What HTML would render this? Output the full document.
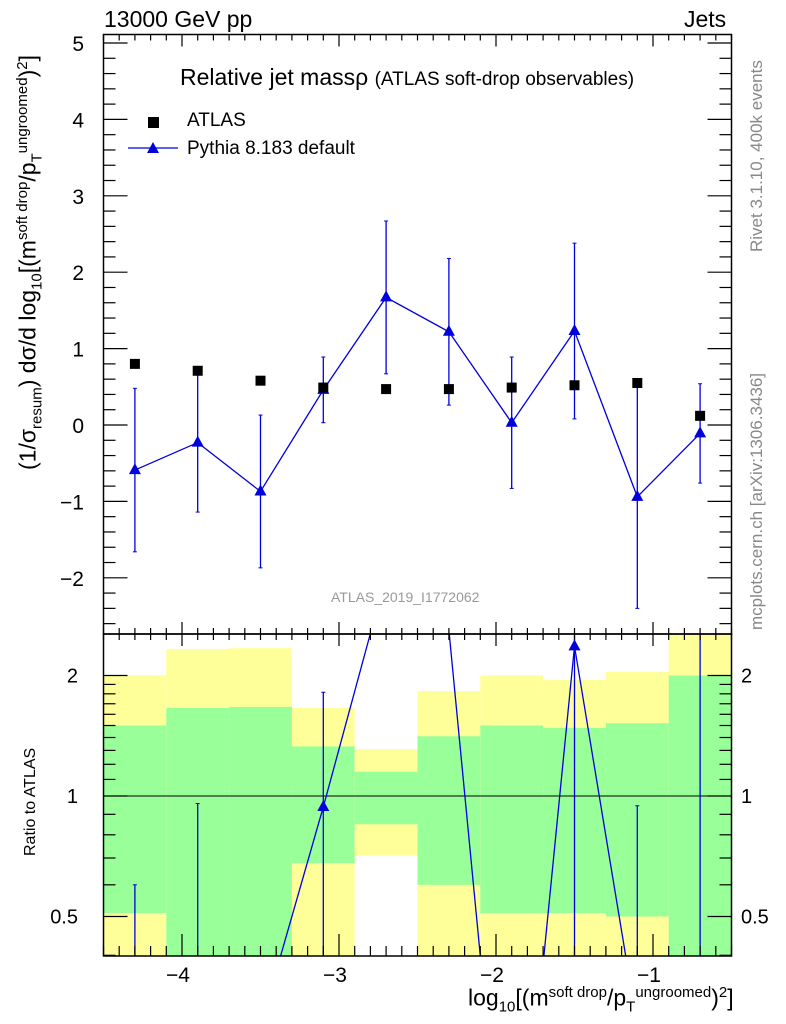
<!DOCTYPE html>
<html><head><meta charset="utf-8"><style>
body{margin:0;background:#fff;overflow:hidden;width:786px;height:1024px;}
svg{display:block;font-family:"Liberation Sans",sans-serif;}
</style></head><body>
<svg id="c" width="786" height="1024"></svg>
<script>
const edges=[-4.5,-4.1,-3.7,-3.3,-2.9,-2.5,-2.1,-1.7,-1.3,-0.9,-0.5];
const centers=[-4.3,-3.9,-3.5,-3.1,-2.7,-2.3,-1.9,-1.5,-1.1,-0.7];
const atlas=[0.8,0.71,0.58,0.49,0.47,0.47,0.49,0.52,0.55,0.12];
const pythia=[-0.59,-0.23,-0.87,0.46,1.67,1.22,0.03,1.23,-0.94,-0.11];
const pyErr=[1.07,0.91,1.0,0.43,1.0,0.96,0.86,1.15,1.46,0.65];
const yelHi=[2.0,2.33,2.34,1.66,1.31,1.83,2.0,1.95,2.04,3.0];
const yelLo=[0.3,0.3,0.3,0.3,0.71,0.3,0.3,0.3,0.3,0.3];
const grnHi=[1.5,1.66,1.67,1.33,1.15,1.41,1.5,1.48,1.52,2.0];
const grnLo=[0.51,0.3,0.3,0.68,0.85,0.6,0.51,0.51,0.5,0.3];
const xTicks=[-4,-3,-2,-1];
const yTicks=[-2,-1,0,1,2,3,4,5];
const rTicks=[0.5,1,2];

const S=document.getElementById('c'),NS='http://www.w3.org/2000/svg';
function el(t,a,p){const e=document.createElementNS(NS,t);for(const k in a)e.setAttribute(k,a[k]);(p||S).appendChild(e);return e;}
const L=103.5,R=731.5,T=34.5,M=634,B=956;
const X=v=>L+(v+4.5)*157;
const Y=v=>425-v*76.4;
const RY=v=>796-Math.log2(v)*120.5;
const cl=v=>Math.max(M,Math.min(B,v));

for(let i=0;i<10;i++){
  const x0=X(edges[i]),x1=X(edges[i+1]);
  let r=el('rect',{x:x0,y:cl(RY(yelHi[i])),width:x1-x0,height:cl(RY(yelLo[i]))-cl(RY(yelHi[i])),fill:'#ffff99'});
  
  r=el('rect',{x:x0,y:cl(RY(grnHi[i])),width:x1-x0,height:cl(RY(grnLo[i]))-cl(RY(grnHi[i])),fill:'#99ff99'});
  
}
el('line',{x1:L,x2:R,y1:RY(1),y2:RY(1),stroke:'#000','stroke-width':1});

const defs=el('defs',{});
const c1=el('clipPath',{id:'cm'},defs);el('rect',{x:L,y:T,width:R-L,height:M-T},c1);
const c2=el('clipPath',{id:'cr'},defs);el('rect',{x:L,y:M,width:R-L,height:B-M},c2);
const gm=el('g',{'clip-path':'url(#cm)'}),gr=el('g',{'clip-path':'url(#cr)'});

function tri(g,x,y){const t=el('path',{d:`M${x},${y-7}L${x+6},${y+4}L${x-6},${y+4}Z`,fill:'#0000dd'},g);}
el('polyline',{points:centers.map((c,i)=>X(c)+','+Y(pythia[i])).join(' '),fill:'none',stroke:'#0000dd','stroke-width':1.3},gm);
centers.forEach((c,i)=>{
  const x=X(c);
  el('line',{x1:x,x2:x,y1:Y(pythia[i]+pyErr[i]),y2:Y(pythia[i]-pyErr[i]),stroke:'#0000dd','stroke-width':1.3},gm);
  el('line',{x1:x-2,x2:x+2,y1:Y(pythia[i]+pyErr[i]),y2:Y(pythia[i]+pyErr[i]),stroke:'#0000dd'},gm);
  el('line',{x1:x-2,x2:x+2,y1:Y(pythia[i]-pyErr[i]),y2:Y(pythia[i]-pyErr[i]),stroke:'#0000dd'},gm);
  tri(gm,x,Y(pythia[i]));
  const s=el('rect',{x:x-5,y:Y(atlas[i])-5,width:10,height:10,fill:'#000'},gm);
  
});
const rat=pythia.map((p,i)=>p/atlas[i]);
const RYs=v=>v>0?RY(v):B+70;
el('polyline',{points:centers.map((c,i)=>X(c)+','+RYs(rat[i])).join(' '),fill:'none',stroke:'#0000dd','stroke-width':1.3},gr);
centers.forEach((c,i)=>{
  const x=X(c),hi=(pythia[i]+pyErr[i])/atlas[i],lo=(pythia[i]-pyErr[i])/atlas[i];
  if(hi<=0)return;
  if(rat[i]>0&&(RY(rat[i])<M||RY(rat[i])>B))return;
  el('line',{x1:x,x2:x,y1:RY(hi),y2:RYs(lo),stroke:'#0000dd','stroke-width':1.3},gr);
  el('line',{x1:x-2,x2:x+2,y1:RY(hi),y2:RY(hi),stroke:'#0000dd'},gr);
  if(rat[i]>0)tri(gr,x,RY(rat[i]));
});

el('rect',{x:L,y:T,width:R-L,height:M-T,fill:'none',stroke:'#000','stroke-width':1.5});
el('rect',{x:L,y:M,width:R-L,height:B-M,fill:'none',stroke:'#000','stroke-width':1.5});
function tick(x1,y1,x2,y2){el('line',{x1,y1,x2,y2,stroke:'#000','stroke-width':1.2});}
for(let k=-45;k<=-5;k++){const v=k/10,x=X(v),maj=k%10==0;
  tick(x,T,x,T+(maj?12:6));tick(x,M,x,M-(maj?12:6));tick(x,M,x,M+(maj?12:6));tick(x,B,x,B-(maj?22:10));}
xTicks.forEach(v=>{const t=el('text',{x:X(v)-4,y:982,'font-size':21,'text-anchor':'middle'});t.textContent='\u2212'+Math.abs(v);});
for(let k=-13;k<=25;k++){const v=k/5,y=Y(v),maj=k%5==0;const len=maj?24:12;tick(L,y,L+len,y);tick(R,y,R-len,y);}
yTicks.forEach(v=>{const t=el('text',{x:84,y:Y(v)+8,'font-size':21,'text-anchor':'end'});t.textContent=(v<0?'\u2212':'')+Math.abs(v);});
[0.4,0.5,0.6,0.7,0.8,0.9,1,2].forEach(v=>{const maj=rTicks.includes(v),len=maj?24:12;tick(L,RY(v),L+len,RY(v));tick(R,RY(v),R-len,RY(v));});
for(let v=1.1;v<2;v+=0.1){tick(L,RY(v),L+12,RY(v));tick(R,RY(v),R-12,RY(v));}
rTicks.forEach(v=>{const y=RY(v)+7;
  let t=el('text',{x:78,y,'font-size':20,'text-anchor':'end'});t.textContent=v;
  t=el('text',{x:741,y,'font-size':20});t.textContent=v;});
</script>
<div style="position:absolute;left:0;top:0;width:786px;height:1024px;overflow:hidden;font-family:'Liberation Sans',sans-serif;pointer-events:none">
<div style="position:absolute;left:104px;top:6px;font-size:23px">13000 GeV pp</div>
<div style="position:absolute;left:684px;top:6px;font-size:23px">Jets</div>
<div style="position:absolute;left:180px;top:64px;font-size:23px;white-space:nowrap">Relative jet massρ <span style="font-size:19px">(ATLAS soft-drop observables)</span></div>
<div style="position:absolute;left:148px;top:117px;width:11px;height:11px;background:#000"></div>
<div style="position:absolute;left:187px;top:110px;font-size:19px">ATLAS</div>
<svg style="position:absolute;left:128px;top:140px" width="50" height="16"><line x1="0" y1="8" x2="50" y2="8" stroke="#0000dd" stroke-width="1.3"/><path d="M25,2L31,13L19,13Z" fill="#0000dd"/></svg>
<div style="position:absolute;left:187px;top:138px;font-size:19px">Pythia 8.183 default</div>
<div style="position:absolute;left:331px;top:589px;font-size:14px;color:#999">ATLAS_2019_I1772062</div>
<div style="position:absolute;left:747px;top:252px;font-size:17px;color:#888;transform:rotate(-90deg);transform-origin:0 0;white-space:nowrap">Rivet 3.1.10,  400k events</div>
<div style="position:absolute;left:747px;top:630px;font-size:17px;color:#888;transform:rotate(-90deg);transform-origin:0 0;white-space:nowrap">mcplots.cern.ch [arXiv:1306.3436]</div>
<div style="position:absolute;left:14px;top:470px;font-size:23px;transform:rotate(-90deg);transform-origin:0 0;white-space:nowrap">(1/σ<sub style="font-size:15px">resum</sub>) dσ/d log<sub style="font-size:15px">10</sub>[(m<sup style="font-size:15px">soft drop</sup>/p<sub style="font-size:15px">T</sub><sup style="font-size:15px">ungroomed</sup>)<sup style="font-size:15px">2</sup>]</div>
<div style="position:absolute;left:22px;top:856px;font-size:16px;transform:rotate(-90deg);transform-origin:0 0;white-space:nowrap">Ratio to ATLAS</div>
<div style="position:absolute;left:468px;top:984px;font-size:23px;white-space:nowrap">log<sub style="font-size:15px">10</sub>[(m<sup style="font-size:15px">soft drop</sup>/p<sub style="font-size:15px">T</sub><sup style="font-size:15px">ungroomed</sup>)<sup style="font-size:15px">2</sup>]</div>
</div>
</body></html>
